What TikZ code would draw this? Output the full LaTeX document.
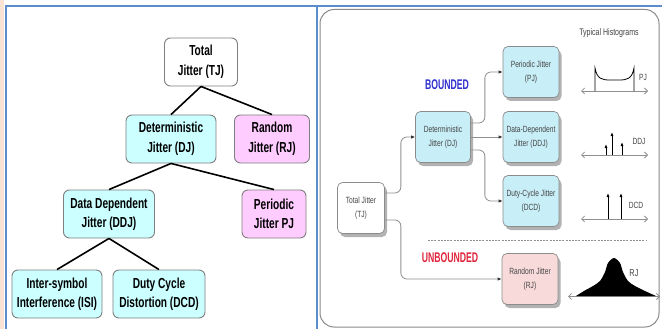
\documentclass[tikz,border=0pt]{standalone}
\usepackage{fontspec}
\setmainfont{Liberation Sans}
\newfontfamily\narrowsans[FakeStretch=0.7]{Liberation Sans}
\newfontfamily\slimsans[FakeStretch=0.74]{Liberation Sans}
\newfontfamily\tallsans[FakeStretch=0.62]{Liberation Sans}
\usetikzlibrary{arrows.meta,positioning,calc,shadows}
\definecolor{mycframe}{HTML}{5B8CCB}
\definecolor{mycpeach}{HTML}{FBE3D3}
\definecolor{myccyan}{HTML}{CCFFFF}
\definecolor{mycpink}{HTML}{FFCCFF}
\definecolor{myclbord}{HTML}{7F7F7F}
\definecolor{mycrcyan}{HTML}{C8EEF7}
\definecolor{mycrpink}{HTML}{F8DADA}
\definecolor{mycrbord}{HTML}{8C8C8C}
\definecolor{mycpanel}{HTML}{8A8A8A}
\definecolor{myctext}{HTML}{454545}
\definecolor{mycblue}{HTML}{2F2FCF}
\definecolor{mycred}{HTML}{E0243C}
\definecolor{mycgray}{HTML}{8F8F8F}

\begin{document}
\begin{tikzpicture}[
 x=1pt,y=-1pt,
 lb/.style={draw=myclbord,rounded corners=6pt,line width=0.9pt,align=center,minimum height=48pt,inner sep=2pt,font=\narrowsans\bfseries\fontsize{14.5pt}{19.5pt}\selectfont},
 rb/.style={draw=mycrbord,fill=mycrcyan,rounded corners=5pt,line width=0.7pt,align=center,minimum width=56pt,minimum height=51pt,inner sep=1pt,text=myctext,font=\slimsans\fontsize{9pt}{14pt}\selectfont,drop shadow={shadow xshift=2.5pt,shadow yshift=-3.5pt,fill=black!30,opacity=1}},
 ln/.style={line width=1.6pt},
 cn/.style={draw=mycgray,line width=0.8pt,rounded corners=6pt,-{Latex[length=4pt,width=3.5pt,color=black!80]}},
 hl/.style={mycgray,line width=0.8pt,{Straight Barb[length=3pt,width=6pt]}-{Straight Barb[length=3pt,width=6pt]}},
 imp/.style={line width=0.8pt,-{Latex[length=4pt,width=3pt]}},
 hlab/.style={text=myctext,inner sep=0pt,font=\slimsans\fontsize{9pt}{10pt}\selectfont}
]
\useasboundingbox (0,0) rectangle (662,329);
\fill[white] (0,0) rectangle (662,329);
\fill[mycpeach] (0,0) rectangle (4,329);
\draw[mycframe,line width=2pt] (6,329) -- (6,6.5) -- (662,6.5);
\draw[mycframe,line width=2pt] (316.5,6.5) -- (316.5,329);
\draw[mycpanel,line width=1pt,rounded corners=14pt] (320,9.5) rectangle (659,327);

\node[lb,minimum width=73pt,fill=white] (tj) at (201,62) {Total\\Jitter (TJ)};
\node[lb,minimum width=90pt,fill=myccyan] (dj) at (171,139) {Deterministic\\Jitter (DJ)};
\node[lb,minimum width=75pt,fill=mycpink] (rj) at (272,139) {Random\\Jitter (RJ)};
\node[lb,minimum width=91pt,fill=myccyan] (ddj) at (109,214) {Data Dependent\\Jitter (DDJ)};
\node[lb,minimum width=64pt,fill=mycpink] (pj) at (274,214) {Periodic\\Jitter PJ};
\node[lb,minimum width=90pt,fill=myccyan] (isi) at (57,294) {Inter-symbol\\Interference (ISI)};
\node[lb,minimum width=92pt,fill=myccyan] (dcd) at (159,294) {Duty Cycle\\Distortion (DCD)};
\draw[ln] (tj.south) -- (dj.north);
\draw[ln] (tj.south) -- (rj.north);
\draw[ln] (dj.south) -- (ddj.north);
\draw[ln] (dj.south) -- (pj.north);
\draw[ln] (ddj.south) -- (isi.north);
\draw[ln] (ddj.south) -- (dcd.north);

\node[rb,minimum width=47pt,fill=white] (tjr) at (361,208) {Total Jitter\\(TJ)};
\node[rb,minimum width=55pt] (djr) at (443,137) {Deterministic\\Jitter (DJ)};
\node[rb] (pjr) at (531,72) {Periodic Jitter\\(PJ)};
\node[rb] (ddjr) at (531,137) {Data-Dependent\\Jitter (DDJ)};
\node[rb] (dcdr) at (531,201) {Duty-Cycle Jitter\\(DCD)};
\node[rb,fill=mycrpink] (rjr) at (530,279) {Random Jitter\\(RJ)};
\draw[cn] ([yshift=15pt]tjr.east) -- ++(16,0) |- (djr.west);
\draw[cn] ([yshift=-12pt]tjr.east) -- ++(16,0) |- (rjr.west);
\draw[cn] ([yshift=14pt]djr.east) -- ++(14,0) |- (pjr.west);
\draw[cn] (djr.east) -- (ddjr.west);
\draw[cn] ([yshift=-13pt]djr.east) -- ++(14,0) |- (dcdr.west);

\node[text=mycblue,font=\tallsans\bfseries\fontsize{14pt}{16pt}\selectfont] (bnd) at (447,85) {BOUNDED};
\node[text=mycred,font=\tallsans\bfseries\fontsize{14pt}{16pt}\selectfont] (ubnd) at (450,258) {UNBOUNDED};
\draw[mycgray,line width=1pt,dash pattern=on 2pt off 1.2pt] (428,240) -- (646,240);
\node[hlab,font=\slimsans\fontsize{9.5pt}{10pt}\selectfont] (th) at (609,33) {Typical Histograms};

\draw[hl] (581,91) -- (648,91);
\draw[line width=0.8pt] (595,91) -- (595,68) .. controls (597,79) and (602,80) .. (610,80) -- (619,80) .. controls (627,80) and (632,79) .. (634,68) -- (634,91);
\node[hlab] (pjl) at (643,77) {PJ};

\draw[hl] (581,155) -- (648,155);
\draw[imp] (606,155) -- (606,144);
\draw[imp] (612,155) -- (612,132);
\draw[imp] (622,155) -- (622,142);
\node[hlab] (ddjl) at (639,141) {DDJ};

\draw[hl] (581,219) -- (648,219);
\draw[imp] (608,219) -- (608,193);
\draw[imp] (621,219) -- (621,193);
\node[hlab] (dcdl) at (636,205) {DCD};

\draw[hl] (568,296.5) -- (660,296.5);
\fill[black] plot[smooth] coordinates {(576,296) (584,291) (593,286) (600,281) (605,272) (608,263) (614,258) (620,263) (623,272) (628,281) (635,286) (645,291) (656,296)} -- cycle;
\node[hlab,font=\slimsans\fontsize{10pt}{11pt}\selectfont] (rjl) at (634,273) {RJ};
\end{tikzpicture}
\end{document}
